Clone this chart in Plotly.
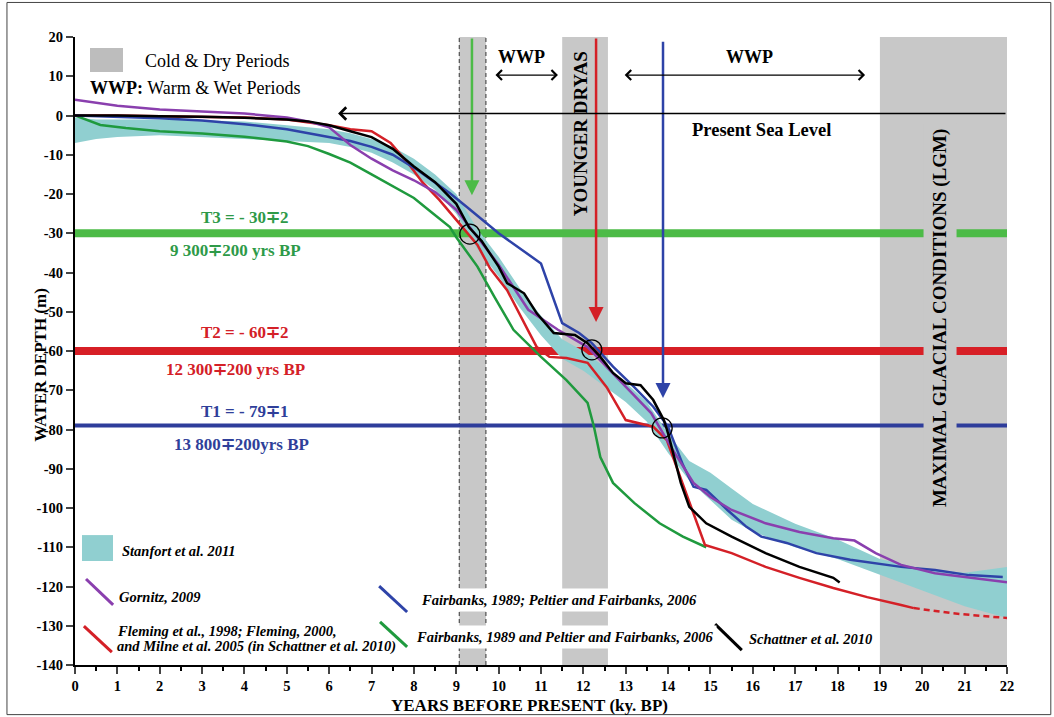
import plotly.graph_objects as go

# ---------------- data ----------------
x_ticks = list(range(0, 23))
y_ticks = list(range(-140, 21, 10))
y_ticktext = [str(v) for v in y_ticks]

# Stanfort et al. 2011 envelope
teal_x = [0, 0.5, 1, 2, 3, 4, 5, 6, 6.5, 7, 7.5, 8, 8.5, 9, 9.5, 10, 10.5, 11, 11.5, 12, 12.5, 13,
          13.5, 14, 14.5, 15, 15.5, 16, 17, 18, 19, 20, 21, 22]
teal_upper = [-0.5, -1, -1, -1, -1.2, -1.5, -2.5, -3.5, -4.5, -6, -8, -11, -15, -20, -29, -36, -44, -51,
              -57, -60, -64, -68, -73, -81, -88, -91, -95, -99, -104, -108, -113, -115.5, -116.5, -115]
teal_lower = [-7, -6, -5.5, -5, -5.5, -6, -6.5, -7, -8, -9.5, -12, -15, -19, -25, -34, -41, -49, -56,
              -62, -65, -69, -73, -78, -86, -93, -98, -103, -106, -110, -113, -117, -121, -125, -128]

# Gornitz, 2009
purple_x = [0, 1, 2, 3, 4, 5, 5.5, 6, 6.5, 7, 7.5, 8, 8.5, 9, 9.5, 10, 10.7, 11.4, 12.1, 13.0, 13.6,
            14.1, 14.6, 15.0, 15.5, 16.3, 17.1, 17.9, 18.4, 18.9, 19.5, 20.3, 21.1, 22]
purple_y = [4, 2.5, 1.5, 1, 0.5, -0.5, -1.5, -3, -7.5, -11, -14, -16.5, -19.5, -24, -31, -38, -49.5,
            -54.6, -59, -69, -75.8, -85, -93.6, -97.2, -100.5, -103.9, -106.1, -107.7, -108.3, -111.5,
            -114.5, -116.6, -117.6, -118.9]

# Fairbanks, 1989; Peltier and Fairbanks, 2006
blue_x = [0, 1, 2, 3, 4, 5, 6, 6.5, 7, 7.5, 8.1, 8.85, 9.25, 10.0, 11.0, 11.2, 11.5, 11.9, 12.2, 12.7,
          13.2, 13.65, 14.0, 14.35, 14.6, 14.9, 15.4, 15.85, 16.2, 16.8, 17.5, 18.3, 19.5, 20.3, 21.1, 21.9]
blue_y = [0, -0.3, -0.7, -1.3, -2.2, -3.5, -5.5, -6.5, -8, -10, -14, -19.8, -23.3, -30, -37.7, -43.7,
          -52.9, -55.4, -58, -64, -69.2, -74.2, -79.3, -89, -94.6, -95.4, -100.5, -104.8, -107.3, -108.9,
          -111.5, -113.2, -115, -115.8, -117.1, -117.6]

# Fairbanks, 1989 and Peltier and Fairbanks, 2006
green_x = [0, 0.6, 1.2, 2, 3, 4, 5, 5.5, 6, 6.5, 7, 7.5, 8, 8.4, 8.85, 9.0, 9.5, 9.9, 10.35, 11.0, 11.6,
           12.1, 12.25, 12.4, 12.7, 13.2, 13.8, 14.35, 14.9]
green_y = [0, -2.4, -3.2, -4, -4.6, -5.4, -6.6, -7.8, -9.8, -12, -15, -18, -21, -24.5, -28.4, -31, -38.5,
           -46.2, -54.6, -61.5, -67.4, -73.2, -79.3, -87, -93.6, -98.7, -103.9, -107.3, -110]

# Fleming et al., 1998; Fleming, 2000; Milne et al. 2005
red_x = [0, 1, 2, 3, 4, 5, 6, 6.5, 7.0, 7.45, 7.85, 8.2, 8.6, 9.0, 9.5, 9.8, 10.2, 10.9, 11.2, 11.6, 12.1,
         12.55, 13.0, 13.65, 13.97, 14.87, 15.5, 16.3, 17.1, 17.9, 18.7, 19.5, 19.8]
red_y = [0, 0, -0.2, -0.3, -0.5, -1, -2.5, -3.5, -4, -7, -12, -17, -21.5, -26.6, -33, -39, -44.5, -59,
         -61.5, -61.8, -63, -69.2, -77.6, -79.3, -82.7, -109.4, -111.5, -115, -117.8, -120.4, -122.7,
         -124.7, -125.5]
red_dash_x = [19.8, 20.7, 21.5, 22]
red_dash_y = [-125.5, -126.8, -127.6, -128]

# Schattner et al. 2010
black_x = [0, 1, 2, 3, 4, 5, 5.5, 6, 6.5, 7, 7.5, 8, 8.5, 9, 9.3, 9.6, 10, 10.2, 10.6, 10.9, 11.3, 11.8,
           12.1, 12.4, 12.7, 13.0, 13.35, 13.65, 13.9, 14.0, 14.3, 14.5, 14.9, 15.5, 16.3, 17.1, 17.9, 18.05]
black_y = [0, 0, -0.2, -0.3, -0.6, -1, -1.5, -2.5, -4, -5.5, -8.5, -13, -17, -22.5, -28.5, -32, -38.5,
           -42.7, -45.3, -50.4, -55.4, -55.9, -58, -61.5, -65.6, -68.2, -68.7, -72.5, -77.6, -81, -93.6,
           -99.7, -103.9, -107.3, -111.5, -115, -117.8, -119]

# periods (ky BP)
cold_periods = [(9.07, 9.70), (11.5, 12.58), (19.0, 22.0)]
# thresholds
thresholds = [(-30, "#4cbb47", 8), (-60, "#d71f26", 8), (-79, "#2e3d9b", 4)]
crossings_x = [9.32, 12.2, 13.86]
crossings_y = [-30.2, -59.7, -79.6]

# ---------------- colours ----------------
C_TEAL = "#90cfd0"
C_PURPLE = "#8a3fae"
C_BLUE = "#2e43a8"
C_GREEN = "#1f9a3e"
C_RED = "#d42027"
C_GRAY = "#c8c8c8"
FONT = "Liberation Serif"

fig = go.Figure()

fig.add_trace(go.Scatter(x=teal_x + teal_x[::-1], y=teal_upper + teal_lower[::-1], fill="toself",
                         fillcolor=C_TEAL, line=dict(width=0), mode="lines", hoverinfo="skip"))
fig.add_trace(go.Scatter(x=green_x, y=green_y, mode="lines", line=dict(color=C_GREEN, width=2.5)))
fig.add_trace(go.Scatter(x=red_x, y=red_y, mode="lines", line=dict(color=C_RED, width=2.5)))
fig.add_trace(go.Scatter(x=red_dash_x, y=red_dash_y, mode="lines",
                         line=dict(color=C_RED, width=2.5, dash="6px,4px")))
fig.add_trace(go.Scatter(x=blue_x, y=blue_y, mode="lines", line=dict(color=C_BLUE, width=2.5)))
fig.add_trace(go.Scatter(x=purple_x, y=purple_y, mode="lines", line=dict(color=C_PURPLE, width=2.5)))
fig.add_trace(go.Scatter(x=black_x, y=black_y, mode="lines", line=dict(color="black", width=2.5)))

shapes = []
for (a, b) in cold_periods:
    shapes.append(dict(type="rect", xref="x", yref="y", x0=a, x1=b, y0=-140, y1=20,
                       fillcolor=C_GRAY, line=dict(width=0), layer="below"))
# dashed borders of first band
for xv in cold_periods[0]:
    shapes.append(dict(type="line", xref="x", yref="y", x0=xv, x1=xv, y0=-140, y1=20,
                       line=dict(color="#333333", width=1, dash="4px,3px"), layer="below"))
for yv, col, w in thresholds:
    shapes.append(dict(type="line", xref="x", yref="y", x0=0, x1=22, y0=yv, y1=yv,
                       line=dict(color=col, width=w), layer="below"))
for cx, cy in zip(crossings_x, crossings_y):
    shapes.append(dict(type="circle", xref="x", yref="y", xsizemode="pixel", ysizemode="pixel",
                       xanchor=cx, yanchor=cy, x0=-10, x1=10, y0=-10, y1=10,
                       line=dict(color="black", width=1.3)))
# legend swatches
shapes.append(dict(type="rect", xref="x", yref="y", x0=0.354, x1=1.133, y0=11.1, y1=17.2,
                   fillcolor="#bdbdbd", line=dict(width=0)))
shapes.append(dict(type="rect", xref="x", yref="y", x0=0.165, x1=0.897, y0=-113.5, y1=-106.9,
                   fillcolor=C_TEAL, line=dict(width=0)))
leg_lines = [((0.26, -118.1), (0.90, -124.7), C_PURPLE),
             ((0.21, -130.1), (0.87, -136.7), C_RED),
             ((7.18, -119.9), (7.84, -126.5), C_BLUE),
             ((7.20, -129.0), (7.84, -135.4), C_GREEN),
             ((15.11, -129.6), (15.74, -136.2), "black")]
for (p0, p1, col) in leg_lines:
    shapes.append(dict(type="line", xref="x", yref="y", x0=p0[0], y0=p0[1], x1=p1[0], y1=p1[1],
                       line=dict(color=col, width=3)))
# outer frame
shapes.append(dict(type="rect", xref="paper", yref="paper", x0=-0.073, x1=1.047, y0=-0.079, y1=1.055,
                   line=dict(color="#444444", width=1)))

ann = []


def txt(x, y, s, size=16, color="black", bold=True, italic=False, xanchor="center", yanchor="middle", **kw):
    ann.append(dict(x=x, y=y, xref=kw.pop("xref", "x"), yref=kw.pop("yref", "y"), text=s,
                    showarrow=False, xanchor=xanchor, yanchor=yanchor,
                    font=dict(family=FONT, size=size, color=color, weight=700 if bold else 400,
                              style="italic" if italic else "normal"), **kw))


def arrow(x0, y0, x1, y1, color, width=2, side="end", head=2, size=1.2):
    ann.append(dict(x=x1, y=y1, ax=x0, ay=y0, xref="x", yref="y", axref="x", ayref="y", text="",
                    showarrow=True, arrowhead=head, startarrowhead=head, arrowsize=size,
                    startarrowsize=size, arrowwidth=width, arrowcolor=color, arrowside=side))


# arrows
arrow(9.37, 20, 9.37, -20.3, "#4cbb47", width=2.5)
arrow(12.3, 20, 12.3, -52.6, C_RED, width=2.5)
arrow(13.88, 19.2, 13.88, -72, C_BLUE, width=2.5)
arrow(22, 0.5, 6.21, 0.5, "black", width=1.5, head=4, size=1.6)
arrow(9.89, 10.3, 11.40, 10.3, "black", width=1.2, side="end+start", head=4, size=1.6)
arrow(12.94, 10.3, 18.65, 10.3, "black", width=1.2, side="end+start", head=4, size=1.6)

txt(1.605, 13.9, "Cold &amp; Dry Periods", size=18, bold=False, xanchor="left")
txt(0.307, 7.0, "<b>WWP:</b> Warm &amp; Wet Periods", size=18, bold=False, xanchor="left")
txt(10.53, 14.9, "WWP", size=18)
txt(15.93, 14.9, "WWP", size=18)
txt(14.52, -3.7, "Present Sea Level", size=18.5, xanchor="left")
txt(11.92, -4.5, "YOUNGER DRYAS", size=19, textangle=-90)
txt(20.42, -51.6, "MAXIMAL GLACIAL CONDITIONS (LGM)", size=19, textangle=-90, bgcolor=C_GRAY,
    borderpad=5)

txt(4.01, -25.9, "T3 = - 30∓2", size=17, color="#2e9a48")
txt(3.80, -34.3, "9 300∓200 yrs BP", size=17, color="#2e9a48")
txt(4.00, -55.2, "T2 = - 60∓2", size=17, color=C_RED)
txt(3.78, -64.8, "12 300∓200 yrs BP", size=17, color=C_RED)
txt(4.01, -75.5, "T1 = - 79∓1", size=17, color="#2f3f9a")
txt(3.94, -83.9, "13 800∓200yrs BP", size=17, color="#2f3f9a")

LS = 14.5
txt(1.06, -111.0, "Stanfort et al. 2011", size=LS, italic=True, xanchor="left")
txt(0.99, -122.7, "Gornitz, 2009", size=LS, italic=True, xanchor="left")
txt(0.94, -131.3, "Fleming et al., 1998; Fleming, 2000,", size=LS, italic=True, xanchor="left")
txt(0.94, -135.4, "and Milne et al. 2005 (in Schattner et al. 2010)", size=LS, italic=True, xanchor="left")
txt(8.07, -123.4, "Fairbanks, 1989; Peltier and Fairbanks, 2006", size=LS, italic=True, xanchor="left",
    bgcolor="white", borderpad=3)
txt(7.95, -132.9, "Fairbanks, 1989 and Peltier and Fairbanks, 2006", size=LS, italic=True, xanchor="left",
    bgcolor="white", borderpad=3)
txt(15.86, -133.4, "Schattner et al. 2010", size=LS, italic=True, xanchor="left")

txt(-0.0365, 0.478, "WATER DEPTH (m)", size=17, xref="paper", yref="paper", textangle=-90)
txt(0.488, -0.0637, "YEARS BEFORE PRESENT (ky. BP)", size=17, xref="paper", yref="paper")

tickfont = dict(family=FONT, size=14.5, color="black", weight=700)
xcommon = dict(range=[0, 22], tickmode="array", tickvals=x_ticks, ticks="outside", ticklen=7, tickwidth=2,
               showline=True, linecolor="black", linewidth=2, showgrid=False, zeroline=False,
               tickfont=tickfont,
               minor=dict(tickvals=[v + 0.5 for v in x_ticks[:-1]], ticks="outside", ticklen=4,
                          tickwidth=1.5, tickcolor="black", showgrid=False))
ycommon = dict(range=[-140, 20], tickmode="array", tickvals=y_ticks, ticktext=y_ticktext, ticks="outside",
               ticklen=7, tickwidth=2, showline=True, linecolor="black", linewidth=2, showgrid=False,
               zeroline=False, tickfont=tickfont)

fig.update_layout(
    width=1054, height=717, margin=dict(l=75, r=47, t=37, b=52),
    paper_bgcolor="white", plot_bgcolor="white", showlegend=False,
    xaxis=dict(**xcommon, side="bottom"),
    xaxis2=dict(**xcommon, side="top", overlaying="x"),
    yaxis=dict(**ycommon, side="left"),
    yaxis2=dict(**ycommon, side="right", overlaying="y"),
    shapes=shapes, annotations=ann,
)
fig.write_html("out.html", config={"displayModeBar": False},
               post_script="document.body.style.margin='0';document.body.style.padding='0';")
